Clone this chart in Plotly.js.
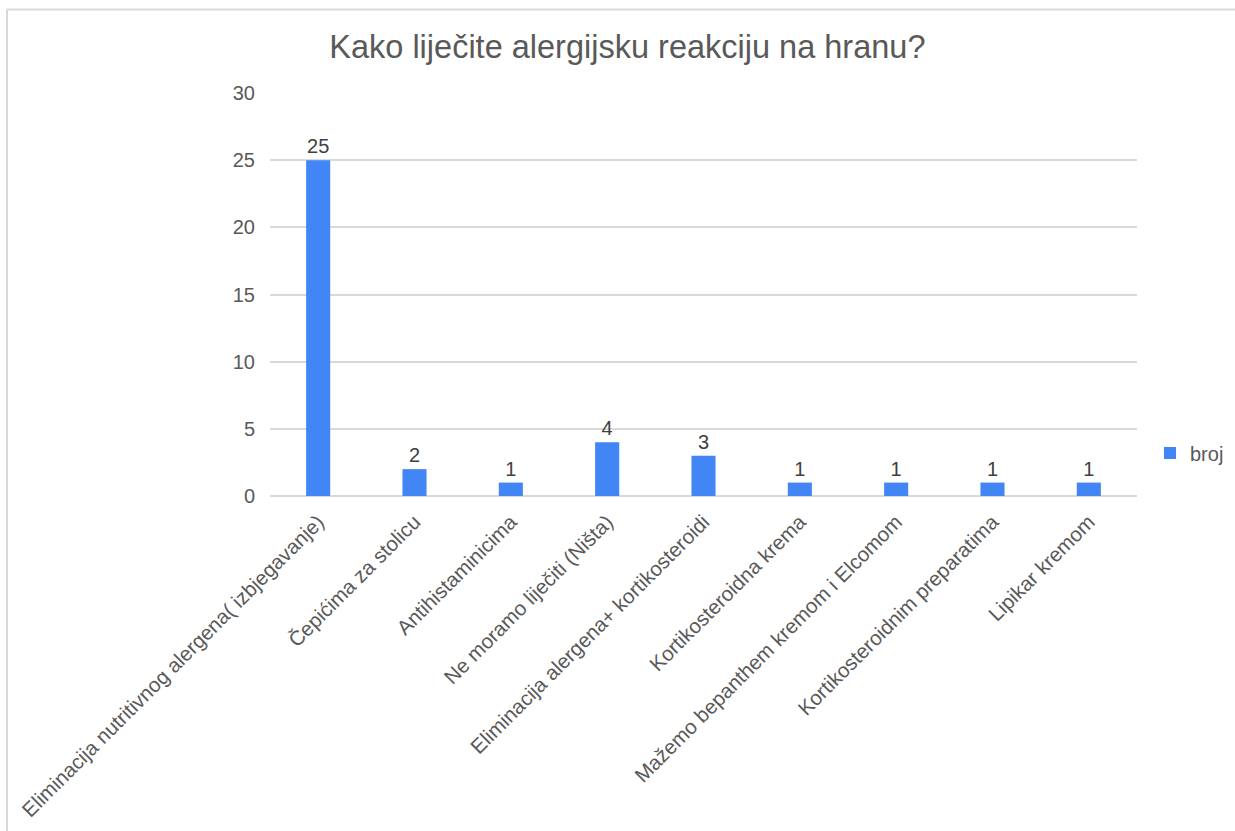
<!DOCTYPE html>
<html>
<head>
<meta charset="utf-8">
<script src="https://cdn.plot.ly/plotly-3.0.1.min.js"></script>
<style>html,body{margin:0;padding:0;background:#fff;}#chart{width:1235px;height:831px;}</style>
</head>
<body>
<div id="chart"></div>
<script>
const categories = [
  "Eliminacija nutritivnog alergena( izbjegavanje)",
  "Čepićima za stolicu",
  "Antihistaminicima",
  "Ne moramo liječiti (Ništa)",
  "Eliminacija alergena+ kortikosteroidi",
  "Kortikosteroidna krema",
  "Mažemo bepanthem kremom i Elcomom",
  "Kortikosteroidnim preparatima",
  "Lipikar kremom"
];
const broj = [25, 2, 1, 4, 3, 1, 1, 1, 1];
const seriesName = "broj";
const chartTitle = "Kako liječite alergijsku reakciju na hranu?";
const yTicks = [0, 5, 10, 15, 20, 25, 30];

const L = 270, R = 1137, T = 93, B = 496, W = 1235, H = 831;
const px2x = p => (p - L) / (R - L);
const py2y = p => (B - p) / (B - T);

const font = "Liberation Sans, Arimo, Arial, sans-serif";

const trace = {
  type: "bar",
  x: categories,
  y: broj,
  name: seriesName,
  marker: {color: "#4285F4"},
  text: broj.map(String),
  textposition: "outside",
  cliponaxis: false,
  textfont: {family: font, size: 20, color: "#404040"},
  showlegend: true
};

const layout = {
  width: W, height: H,
  margin: {l: L, r: W - R, t: T, b: H - B, pad: 0, autoexpand: false},
  paper_bgcolor: "#ffffff",
  plot_bgcolor: "#ffffff",
  bargap: 0.75,
  title: {
    text: chartTitle,
    font: {family: font, size: 32.5, color: "#595959"},
    x: 0.508, xref: "container", xanchor: "center",
    y: 1 - 47 / H, yref: "container", yanchor: "middle"
  },
  xaxis: {
    type: "category",
    tickangle: -45,
    tickfont: {family: font, size: 20.5, color: "#595959"},
    showgrid: false,
    showline: false,
    zeroline: false,
    ticks: "",
    ticklabelstandoff: 9,
    automargin: false
  },
  yaxis: {
    range: [0, 30],
    tickvals: yTicks,
    ticktext: yTicks.map(String),
    tickfont: {family: font, size: 20, color: "#595959"},
    showgrid: true,
    gridcolor: "#d9d9d9",
    gridwidth: 2,
    zeroline: true,
    zerolinecolor: "#d9d9d9",
    zerolinewidth: 2,
    showline: false,
    ticks: "",
    ticklabelstandoff: 14,
    automargin: false,
    fixedrange: true
  },
  showlegend: true,
  legend: {
    x: px2x(1150), xanchor: "left",
    y: py2y(453), yanchor: "middle",
    font: {family: font, size: 20, color: "#595959"},
    itemwidth: 30,
    bgcolor: "rgba(0,0,0,0)",
    borderwidth: 0
  },
  shapes: [
    {type: "line", xref: "paper", yref: "paper", x0: px2x(7), x1: px2x(W + 5), y0: py2y(9.5), y1: py2y(9.5),
     line: {color: "#d9d9d9", width: 2}},
    {type: "line", xref: "paper", yref: "paper", x0: px2x(7), x1: px2x(7), y0: py2y(9.5), y1: py2y(H + 5),
     line: {color: "#d9d9d9", width: 2}}
  ]
};

Plotly.newPlot("chart", [trace], layout, {displayModeBar: false, staticPlot: true});
</script>
</body>
</html>
